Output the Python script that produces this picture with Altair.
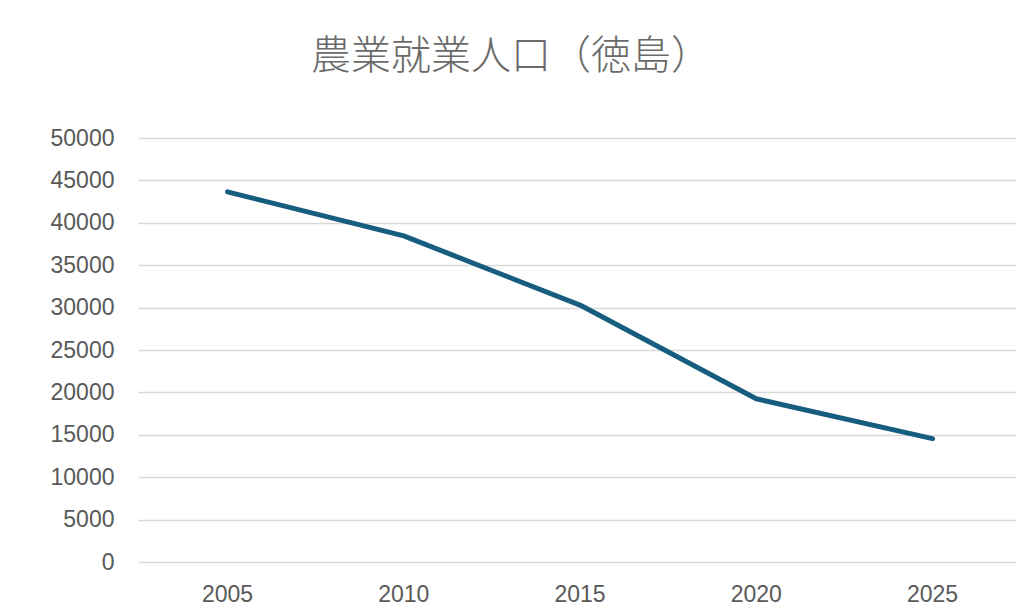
import altair as alt
import pandas as pd

years = [2005, 2010, 2015, 2020, 2025]
workers = [43650, 38450, 30300, 19250, 14550]
y_ticks = [0, 5000, 10000, 15000, 20000, 25000, 30000, 35000, 40000, 45000, 50000]
title_text = "農業就業人口（徳島）"

df = pd.DataFrame({"year": years, "workers": workers, "label": [str(y) for y in years]})

x_scale = alt.Scale(domain=[2002.46, 2027.37], nice=False, zero=False)

line = (
    alt.Chart(df)
    .mark_line(color="#175d7f", strokeWidth=5, strokeCap="round", strokeJoin="round")
    .encode(
        x=alt.X("year:Q", scale=x_scale, axis=None),
        y=alt.Y(
            "workers:Q",
            scale=alt.Scale(domain=[0, 50000], nice=False),
            axis=alt.Axis(
                values=y_ticks, format="d", title=None, domain=False, ticks=False,
                gridColor="#d9d9d9", gridWidth=1.5, labelFontSize=23,
                labelColor="#595959", labelFont="Liberation Sans", labelPadding=24,
            ),
        ),
    )
)

xlabels = (
    alt.Chart(df)
    .mark_text(baseline="top", align="center", fontSize=23, font="Liberation Sans",
               color="#595959")
    .encode(
        x=alt.X("year:Q", scale=x_scale, axis=None),
        y=alt.value(446),
        text="label:N",
    )
)

chart = (
    alt.layer(line, xlabels)
    .properties(
        width=878,
        height=424,
        title=alt.TitleParams(
            text=title_text, fontSize=40, font="Noto Sans CJK JP", fontWeight=200,
            color="#6a6a6a", anchor="middle", dx=-66, offset=50,
        ),
        autosize=alt.AutoSizeParams(type="none"),
        padding={"left": 130, "top": 130, "right": 0, "bottom": 50},
    )
    .configure(background="white")
    .configure_view(strokeWidth=0, stroke="transparent")
)

chart.save("out.html", embed_options={"renderer": "svg", "actions": False})
